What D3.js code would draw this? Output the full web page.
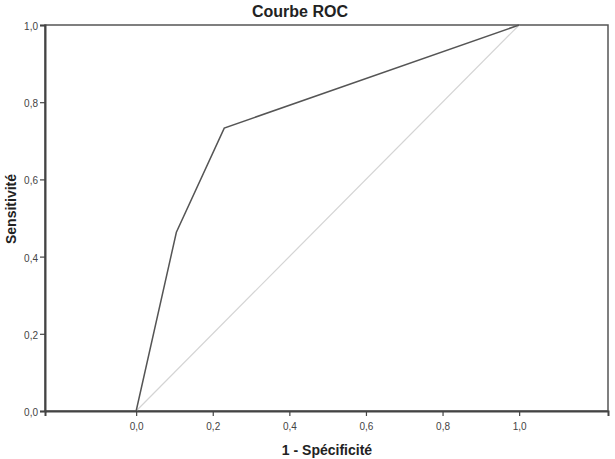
<!DOCTYPE html>
<html>
<head>
<meta charset="utf-8">
<script src="https://cdnjs.cloudflare.com/ajax/libs/d3/7.8.5/d3.min.js"></script>
<style>
  body { margin: 0; background: #fff; }
  text { font-family: "Liberation Sans", Arial, sans-serif; }
</style>
</head>
<body>
<div id="chart"></div>
<script>
// ROC curve points (1 - specificity, sensitivity)
var fpr = [0.0, 0.105, 0.23, 1.0, 1.0];
var tpr = [0.0, 0.463, 0.733, 1.0, 1.0];
// reference diagonal
var diagX = [0, 1];
var diagY = [0, 1];
var tickVals = [0, 0.2, 0.4, 0.6, 0.8, 1.0];

var svgWidth = 615;
var svgHeight = 459;
var margin = { top: 25, right: 7, bottom: 48, left: 45 };
var w = svgWidth - margin.left - margin.right;
var h = svgHeight - margin.top - margin.bottom;

var svg = d3.select("#chart").append("svg")
    .attr("width", svgWidth)
    .attr("height", svgHeight);

var g = svg.append("g")
    .attr("transform", `translate(${margin.left},${margin.top})`);

// x domain extends past 0 and 1 like the original
var x = d3.scaleLinear().domain([-0.238, 1.232]).range([0, w]);
var y = d3.scaleLinear().domain([0, 1]).range([h, 0]);

var fmt = d => d.toFixed(1).replace(".", ",");

// frame
g.append("rect")
    .attr("width", w).attr("height", h)
    .attr("fill", "none")
    .attr("stroke", "#555")
    .attr("stroke-width", 1.5);

// diagonal
g.append("path")
    .datum(diagX.map((d, i) => [d, diagY[i]]))
    .attr("fill", "none")
    .attr("stroke", "#d4d4d4")
    .attr("stroke-width", 1.2)
    .attr("d", d3.line().x(d => x(d[0])).y(d => y(d[1])));

// roc curve
g.append("path")
    .datum(fpr.map((d, i) => [d, tpr[i]]))
    .attr("fill", "none")
    .attr("stroke", "#555")
    .attr("stroke-width", 1.5)
    .attr("d", d3.line().x(d => x(d[0])).y(d => y(d[1])));

// axes
var xAxis = g.append("g")
    .attr("transform", `translate(0,${h})`)
    .call(d3.axisBottom(x).tickValues(tickVals).tickFormat(fmt).tickSize(5).tickPadding(7));
var yAxis = g.append("g")
    .call(d3.axisLeft(y).tickValues(tickVals).tickFormat(fmt).tickSize(5).tickPadding(2));

[xAxis, yAxis].forEach(function (a) {
    a.select(".domain").attr("stroke", "#444").attr("stroke-width", 2);
    a.selectAll(".tick line").attr("stroke", "#444").attr("stroke-width", 1.2);
    a.selectAll(".tick text")
        .attr("fill", "#444")
        .style("font-size", "10px")
        .style("font-family", "Liberation Sans, Arial, sans-serif");
});
yAxis.selectAll(".tick text").attr("dy", "0.45em");

// title + labels
svg.append("text")
    .attr("x", 300).attr("y", 17)
    .attr("text-anchor", "middle")
    .style("font-size", "16px")
    .style("font-weight", "bold")
    .attr("fill", "#222")
    .text("Courbe ROC");

svg.append("text")
    .attr("x", 327).attr("y", 455)
    .attr("text-anchor", "middle")
    .style("font-size", "14px")
    .style("font-weight", "bold")
    .attr("fill", "#222")
    .text("1 - Spécificité");

svg.append("text")
    .attr("transform", `translate(16,209) rotate(-90)`)
    .attr("text-anchor", "middle")
    .style("font-size", "14px")
    .style("font-weight", "bold")
    .attr("fill", "#222")
    .text("Sensitivité");
</script>
</body>
</html>
